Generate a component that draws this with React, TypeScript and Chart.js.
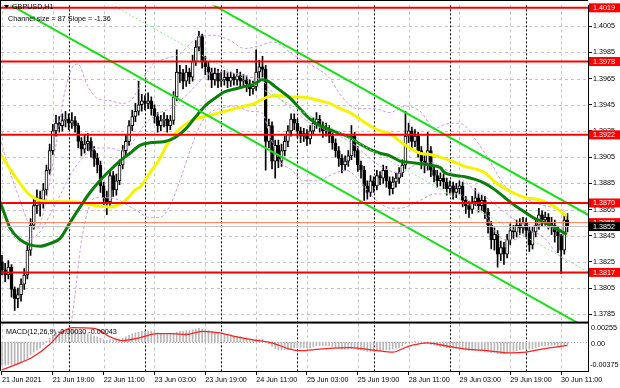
import { useEffect, useRef } from 'react';
import { Chart, registerables } from 'chart.js';

Chart.register(...registerables);

// ---------- DATA ----------
const firstOpen = 1.3825;
const closes = [
  1.3819, 1.3815, 1.3821, 1.3804, 1.3797, 1.38, 1.3808, 1.3815, 1.3834, 1.3853,
  1.3868, 1.3874, 1.3872, 1.388, 1.3895, 1.391, 1.3925, 1.3931, 1.3929, 1.3933,
  1.3934, 1.3931, 1.3933, 1.3929, 1.3917, 1.3911, 1.3915, 1.3917, 1.391, 1.3904,
  1.3899, 1.3883, 1.3874, 1.3871, 1.3891, 1.388, 1.3887, 1.3899, 1.391, 1.3917,
  1.3929, 1.3936, 1.394, 1.3945, 1.3948, 1.3946, 1.3948, 1.3942, 1.3936, 1.3929,
  1.3933, 1.3934, 1.3929, 1.3933, 1.3951, 1.397, 1.3969, 1.3963, 1.397, 1.3966,
  1.3978, 1.3989, 1.3997, 1.3978, 1.3974, 1.397, 1.3964, 1.3969, 1.3963, 1.3964,
  1.3966, 1.3963, 1.3966, 1.3964, 1.3967, 1.3963, 1.3964, 1.3961, 1.3957, 1.3959,
  1.397, 1.3974, 1.3972, 1.3917, 1.3929, 1.3902, 1.3914, 1.3902, 1.391, 1.3917,
  1.3925, 1.3934, 1.3931, 1.3925, 1.3921, 1.3923, 1.3919, 1.3925, 1.3931, 1.3934,
  1.3929, 1.3925, 1.3926, 1.3921, 1.3916, 1.391, 1.3904, 1.3899, 1.3902, 1.3906,
  1.3921, 1.391, 1.3899, 1.3895, 1.3883, 1.3878, 1.3887, 1.3883, 1.3891, 1.3889,
  1.3895, 1.3887, 1.3881, 1.3886, 1.3889, 1.3893, 1.3899, 1.3921, 1.3925, 1.3917,
  1.3921, 1.391, 1.3902, 1.3899, 1.391, 1.3895, 1.3891, 1.3887, 1.3889, 1.3886,
  1.3881, 1.3883, 1.3878, 1.3881, 1.3883, 1.3872, 1.3868, 1.3865, 1.3871, 1.3874,
  1.3868, 1.3872, 1.3863, 1.3853, 1.3842, 1.3846, 1.3831, 1.3836, 1.3831, 1.3842,
  1.3849, 1.3848, 1.3853, 1.3851, 1.3855, 1.3849, 1.3838, 1.3848, 1.3853, 1.3861,
  1.3857, 1.3859, 1.3855, 1.3853, 1.3848, 1.3845, 1.3834, 1.3857, 1.3852,
];
const highs = [
  1.383, 1.3824, 1.3826, 1.3823, 1.3806, 1.3805, 1.3812, 1.382, 1.3838, 1.3858,
  1.3873, 1.388, 1.3879, 1.3885, 1.3899, 1.3915, 1.393, 1.3937, 1.3936, 1.3938,
  1.394, 1.3938, 1.3939, 1.3936, 1.3931, 1.392, 1.3922, 1.3923, 1.392, 1.3913,
  1.3908, 1.3902, 1.3886, 1.3879, 1.3895, 1.3894, 1.3892, 1.3903, 1.3914, 1.3922,
  1.3933, 1.3941, 1.3946, 1.3963, 1.3953, 1.3952, 1.3954, 1.3951, 1.3945, 1.3939,
  1.3937, 1.3939, 1.3937, 1.3937, 1.3955, 1.3987, 1.3975, 1.3972, 1.3975, 1.3973,
  1.3983, 1.3994, 1.4001, 1.3999, 1.3982, 1.3978, 1.3973, 1.3973, 1.3972, 1.397,
  1.3971, 1.397, 1.397, 1.3969, 1.3972, 1.397, 1.3968, 1.3967, 1.3964, 1.3963,
  1.3987, 1.3979, 1.3982, 1.3975, 1.3934, 1.3932, 1.3918, 1.3918, 1.3915, 1.3921,
  1.3929, 1.3938, 1.3938, 1.3934, 1.3928, 1.3927, 1.3926, 1.3929, 1.3935, 1.3939,
  1.3937, 1.3932, 1.3931, 1.3929, 1.3924, 1.3919, 1.3913, 1.3907, 1.3906, 1.391,
  1.3929, 1.3924, 1.3913, 1.3902, 1.3898, 1.3887, 1.3891, 1.389, 1.3895, 1.3894,
  1.3899, 1.3898, 1.389, 1.389, 1.3893, 1.3897, 1.3903, 1.394, 1.3931, 1.3928,
  1.3926, 1.3924, 1.3913, 1.3906, 1.3924, 1.3913, 1.3898, 1.3895, 1.3893, 1.3892,
  1.3889, 1.3887, 1.3886, 1.3885, 1.3887, 1.3886, 1.3875, 1.3871, 1.3875, 1.3881,
  1.3877, 1.3876, 1.3875, 1.3866, 1.3856, 1.3851, 1.3849, 1.3841, 1.384, 1.3846,
  1.3854, 1.3853, 1.3857, 1.3858, 1.3859, 1.3858, 1.3852, 1.3852, 1.3857, 1.3866,
  1.3864, 1.3863, 1.3862, 1.3859, 1.3857, 1.3852, 1.3846, 1.3861, 1.3862,
];
const lows = [
  1.3815, 1.381, 1.3812, 1.3798, 1.3788, 1.379, 1.3795, 1.3804, 1.3812, 1.383,
  1.385, 1.3862, 1.386, 1.3866, 1.3876, 1.3892, 1.3907, 1.3921, 1.3924, 1.3925,
  1.3928, 1.3926, 1.3927, 1.3924, 1.3912, 1.3906, 1.3908, 1.391, 1.3905, 1.3898,
  1.3893, 1.3878, 1.3868, 1.3861, 1.3868, 1.3875, 1.3876, 1.3884, 1.3896, 1.3906,
  1.3914, 1.3925, 1.3932, 1.3937, 1.394, 1.3941, 1.3942, 1.3937, 1.3931, 1.3924,
  1.3925, 1.3928, 1.3924, 1.3926, 1.393, 1.3948, 1.3962, 1.3957, 1.3959, 1.3961,
  1.3963, 1.3975, 1.3986, 1.3973, 1.3968, 1.3964, 1.3958, 1.396, 1.3958, 1.3959,
  1.396, 1.3958, 1.3959, 1.396, 1.396, 1.3958, 1.3958, 1.3955, 1.3952, 1.3953,
  1.3956, 1.3965, 1.3966, 1.3895, 1.3912, 1.3896, 1.3889, 1.3897, 1.3898, 1.3906,
  1.3913, 1.3921, 1.3926, 1.392, 1.3916, 1.3917, 1.3914, 1.3915, 1.3922, 1.3927,
  1.3924, 1.392, 1.3921, 1.3916, 1.3911, 1.3905, 1.3898, 1.3893, 1.3895, 1.3898,
  1.3903, 1.3905, 1.3894, 1.3889, 1.3872, 1.3873, 1.3875, 1.3878, 1.388, 1.3884,
  1.3885, 1.3882, 1.3876, 1.3877, 1.3882, 1.3885, 1.389, 1.3896, 1.3916, 1.3912,
  1.3913, 1.3905, 1.3896, 1.3893, 1.3895, 1.389, 1.3886, 1.3882, 1.3883, 1.3881,
  1.3876, 1.3877, 1.3873, 1.3874, 1.3877, 1.3867, 1.3862, 1.3859, 1.3862, 1.3868,
  1.3863, 1.3864, 1.3858, 1.3847, 1.3835, 1.3834, 1.3821, 1.3826, 1.3823, 1.3828,
  1.3838, 1.3843, 1.3844, 1.3846, 1.3847, 1.3844, 1.3833, 1.3835, 1.3844, 1.385,
  1.3852, 1.3853, 1.385, 1.3846, 1.384, 1.3832, 1.3816, 1.3831, 1.3848,
];

// moving averages: [bar index, price]
const maYellow = [
  [-0.6, 1.3908], [2.5, 1.3896], [5.7, 1.3885], [8.8, 1.3876], [12, 1.3872], [16.7, 1.3871],
  [21.4, 1.3871], [26.1, 1.387], [29.3, 1.3868], [34, 1.3867], [37.1, 1.3869], [39.7, 1.3874],
  [41.9, 1.388], [43.4, 1.3882], [46.6, 1.3893], [49.7, 1.3904], [51.3, 1.3912], [54.5, 1.3923],
  [57.6, 1.393], [60.7, 1.3934], [63.9, 1.3936], [67, 1.3938], [70.2, 1.394], [73.3, 1.3942],
  [76.5, 1.3944], [79.6, 1.3946], [81.8, 1.3949], [83.7, 1.3951], [86.9, 1.3952], [90.7, 1.3951],
  [93.8, 1.3951], [97, 1.395], [100.1, 1.3948], [103.2, 1.3946], [106.4, 1.3942], [109.5, 1.3939],
  [112.7, 1.3934], [115.8, 1.3929], [119, 1.3925], [122.1, 1.3923], [125.3, 1.3917], [128.4, 1.3912],
  [131.6, 1.3908], [134.7, 1.3907], [137.9, 1.3905], [142.6, 1.3901], [145.7, 1.3898], [148.9, 1.3896],
  [152, 1.3893], [155.2, 1.3886], [158.3, 1.3881], [161.5, 1.3877], [164.6, 1.3874], [167.8, 1.3873],
  [170.9, 1.3871], [174.1, 1.3867], [176.6, 1.3862], [177.8, 1.386],
];
const maGreen = [
  [-0.6, 1.3871], [0.9, 1.3861], [2.5, 1.3851], [5.7, 1.3842], [8.8, 1.3838], [12, 1.3837],
  [15.1, 1.3839], [18.3, 1.3843], [21.4, 1.3855], [24.6, 1.3867], [27.7, 1.3878], [30.8, 1.3887],
  [34, 1.3895], [37.1, 1.3902], [40.3, 1.3908], [43.4, 1.3914], [46.6, 1.3916], [51.3, 1.3917],
  [54.5, 1.392], [57.6, 1.3926], [60.7, 1.3935], [63.9, 1.3944], [67, 1.395], [70.2, 1.3955],
  [73.3, 1.3957], [76.5, 1.3959], [79.6, 1.3961], [81.8, 1.3964], [83.7, 1.3963], [85.9, 1.3959],
  [88.1, 1.3955], [90.7, 1.395], [93.8, 1.3942], [97, 1.3934], [100.1, 1.3929], [103.2, 1.3926],
  [106.4, 1.3923], [109.5, 1.392], [112.7, 1.3915], [115.8, 1.3911], [119, 1.3908], [122.1, 1.3906],
  [125.3, 1.3902], [128.4, 1.3901], [131.6, 1.39], [134.7, 1.3899], [137.9, 1.3897], [139.4, 1.3893],
  [142.6, 1.3891], [145.7, 1.389], [148.9, 1.3888], [152, 1.3885], [155.2, 1.388], [158.3, 1.3874],
  [161.5, 1.3868], [164.6, 1.3863], [167.8, 1.3858], [170.9, 1.3855], [174.1, 1.3851], [177.8, 1.3846],
];
const bandUpper = [
  [-0.6, 1.392], [2.5, 1.3894], [5.7, 1.3872], [8.8, 1.3853], [11.3, 1.3851], [13.5, 1.3868],
  [16.7, 1.391], [19.8, 1.3955], [22, 1.3973], [23.9, 1.3976], [26.8, 1.396], [29.9, 1.395],
  [34, 1.3948], [38.1, 1.3946], [41.2, 1.395], [44.4, 1.3965], [47.5, 1.3976], [51.3, 1.398],
  [56, 1.3984], [59.8, 1.3993], [63, 1.3998], [67, 1.3998], [71.1, 1.3995], [76.5, 1.3988],
  [81.2, 1.399], [85, 1.3993], [87.5, 1.3991], [90.7, 1.3985], [93.8, 1.398], [96.9, 1.3976],
  [103.2, 1.3965], [106.4, 1.3953], [111.7, 1.3942], [117.4, 1.3942], [122.1, 1.3939], [126.8, 1.3944],
  [131.6, 1.394], [136.3, 1.3927], [139.4, 1.393], [142.6, 1.3931], [145.7, 1.3929], [148.9, 1.3919],
  [153.6, 1.3902], [158.3, 1.3883], [163, 1.3876], [167.8, 1.387], [170.9, 1.3868], [174.1, 1.3866],
  [177.8, 1.3863],
];
const bandMiddle = [
  [-0.6, 1.3855], [2.5, 1.3848], [5.7, 1.384], [8.8, 1.3842], [12, 1.3848], [15.1, 1.3861],
  [18.3, 1.3876], [21.4, 1.3891], [24.6, 1.3902], [27.7, 1.391], [30.8, 1.3912], [34, 1.3912],
  [37.1, 1.391], [40.3, 1.3914], [43.4, 1.3925], [46.6, 1.3934], [49.7, 1.3939], [52.9, 1.3942],
  [56, 1.3948], [59.2, 1.3955], [62.3, 1.3963], [65.5, 1.3969], [68.6, 1.397], [73.3, 1.3969],
  [78.1, 1.3966], [81.8, 1.3964], [85, 1.3955], [88.1, 1.3948], [92.2, 1.394], [96.9, 1.3931],
  [101.7, 1.3926], [106.4, 1.3921], [111.1, 1.3914], [115.8, 1.3904], [120.6, 1.3896], [125.3, 1.3893],
  [130, 1.3899], [134.7, 1.3901], [139.4, 1.3896], [144.2, 1.3889], [148.9, 1.388], [153.6, 1.3872],
  [158.3, 1.3863], [163, 1.3855], [167.8, 1.3853], [172.5, 1.3851], [177.8, 1.3848],
];
const bandLower = [
  [12, 1.3759], [18.3, 1.3763], [21.4, 1.3774], [23, 1.38], [24.6, 1.3834], [26.8, 1.3862],
  [29.3, 1.3874], [34, 1.3874], [41.2, 1.3866], [46.6, 1.3859], [49.7, 1.3859], [52.9, 1.3868],
  [56, 1.3887], [59.2, 1.391], [62.3, 1.3929], [65.5, 1.3939], [68.6, 1.3942], [73.3, 1.3944],
  [78.1, 1.394], [81.8, 1.3939], [84.4, 1.3921], [87.5, 1.3902], [91.3, 1.3895], [94.7, 1.3887],
  [99.2, 1.3887], [103.2, 1.3891], [108, 1.3895], [112.7, 1.3887], [115.8, 1.3877], [119, 1.387],
  [122.1, 1.3866], [125.3, 1.3866], [131.6, 1.3872], [136.3, 1.3877], [142.6, 1.3877], [145.7, 1.3874],
  [152, 1.3861], [155.2, 1.3848], [158.3, 1.3842], [161.5, 1.3842], [166.2, 1.3848], [170.9, 1.3843],
  [174.1, 1.3833], [177.8, 1.3825],
];

// regression channel (size 87 pips, slope -1.36 pips/bar)
const channelUpper = [[60, 1.4030], [184.5, 1.3861]];
const channelMiddle = [[30, 1.40275], [184.5, 1.38175]];
const channelLower = [[0, 1.40248], [184.5, 1.3774]];
const channelSize = '87';
const channelSlope = '-1.36';

const levels = [1.4019, 1.3978, 1.3922, 1.387, 1.3817];
const askLevel = 1.3855;
const bidLevel = 1.3852;

const macdHist = [
  -0.003, -0.003, -0.0029, -0.0029, -0.0029, -0.0028, -0.0026, -0.0024, -0.0021, -0.0017,
  -0.0013, -0.001, -0.0007, -0.0003, 0.0001, 0.0005, 0.0009, 0.0012, 0.0014, 0.0016,
  0.0017, 0.0017, 0.0017, 0.0016, 0.0015, 0.0013, 0.0012, 0.0011, 0.001, 0.0008,
  0.0007, 0.0005, 0.0003, 0.0002, 0.0003, 0.0003, 0.0003, 0.0004, 0.0005, 0.0007,
  0.0009, 0.0011, 0.0012, 0.0013, 0.0014, 0.0014, 0.0014, 0.0014, 0.0013, 0.0012,
  0.0011, 0.001, 0.001, 0.001, 0.0011, 0.0013, 0.0014, 0.0014, 0.0015, 0.0015,
  0.0016, 0.0017, 0.0018, 0.0017, 0.0016, 0.0015, 0.0014, 0.0013, 0.0012, 0.0011,
  0.001, 0.0009, 0.0009, 0.0008, 0.0008, 0.0007, 0.0006, 0.0005, 0.0004, 0.0003,
  0.0004, 0.0004, 0.0004, 0.0, -0.0002, -0.0006, -0.0008, -0.001, -0.001, -0.001,
  -0.0009, -0.0008, -0.0007, -0.0007, -0.0007, -0.0007, -0.0007, -0.0007, -0.0006, -0.0005,
  -0.0005, -0.0005, -0.0005, -0.0005, -0.0006, -0.0007, -0.0008, -0.0009, -0.0009, -0.0009,
  -0.0008, -0.0008, -0.0009, -0.001, -0.0011, -0.0012, -0.0012, -0.0012, -0.0011, -0.0011,
  -0.001, -0.001, -0.001, -0.0009, -0.0008, -0.0007, -0.0005, -0.0002, 0.0, 0.0,
  0.0001, 0.0, -0.0001, -0.0002, -0.0002, -0.0003, -0.0004, -0.0005, -0.0006, -0.0006,
  -0.0007, -0.0007, -0.0008, -0.0008, -0.0008, -0.0009, -0.001, -0.0011, -0.0011, -0.0011,
  -0.0011, -0.0011, -0.0012, -0.0013, -0.0014, -0.0014, -0.0015, -0.0015, -0.0015, -0.0014,
  -0.0013, -0.0012, -0.0011, -0.001, -0.0009, -0.0009, -0.0009, -0.0008, -0.0007, -0.0006,
  -0.0005, -0.0005, -0.0005, -0.0004, -0.0004, -0.0005, -0.0005, -0.0004, -0.0003,
];
const macdSignal = [
  [0, -0.0036], [5.7, -0.0027], [9.8, -0.0019], [15, -0.0003], [18, 0.001], [22, 0.0019],
  [29, 0.0018], [34, 0.0007], [38, 0.0002], [43.5, 0.0006], [48.8, 0.0011], [53.8, 0.0011],
  [58, 0.001], [63, 0.0014], [68.6, 0.0012], [72.7, 0.0008], [79, 0.0003], [85, -0.0001],
  [90.6, -0.0009], [93.8, -0.0011], [100, -0.0009], [109.5, -0.0007], [118, -0.0011], [123, -0.0013],
  [127.5, -0.0006], [133.8, -0.0001], [140, -0.0005], [146.4, -0.0009], [152.7, -0.0011], [160, -0.0014],
  [165, -0.0013], [170, -0.0009], [178, -0.00043],
];

const xTickIdx = [0, 16, 32, 48, 64, 80, 96, 112, 128, 144, 160, 176];
const xTickLabels = [
  '21 Jun 2021', '21 Jun 19:00', '22 Jun 11:00', '23 Jun 03:00', '23 Jun 19:00', '24 Jun 11:00',
  '25 Jun 03:00', '25 Jun 19:00', '28 Jun 11:00', '29 Jun 03:00', '29 Jun 19:00', '30 Jun 11:00',
];
const daySeparators = [21, 45, 69, 93, 117, 141, 165];
const priceTicks = [1.4005, 1.3985, 1.3965, 1.3945, 1.3925, 1.3905, 1.3885, 1.3865, 1.3845, 1.3825, 1.3805, 1.3785];
const macdTicks = [0.00255, 0, -0.00375];
const macdTickLabels = ['0.00255', '0.00', '-0.00375'];

// axis ranges
const X_MIN = -0.31;
const X_MAX = 184.46;
const PRICE_MIN = 1.37787;
const PRICE_MAX = 1.40209;
const MACD_MIN = -0.00375;
const MACD_MAX = 0.00255;

const FONT_FAMILY = '"Liberation Sans", Arial, sans-serif';
const FONT_PX = 7.2;

export default function App() {
  const ref = useRef<HTMLCanvasElement>(null);

  useEffect(() => {
    const canvas = ref.current;
    if (!canvas) return;
    const opens = closes.map((c, i) => (i === 0 ? firstOpen : closes[i - 1]));
    const wickData = closes.map((c, i) => ({
      x: i,
      y: [Math.min(lows[i], opens[i], c), Math.max(highs[i], opens[i], c)],
    }));
    const bodyData = closes.map((c, i) => ({ x: i, y: [Math.min(opens[i], c), Math.max(opens[i], c)] }));
    const bodyColors = closes.map((c, i) => (c >= opens[i] ? '#ffffff' : '#000000'));
    const pts = (arr: number[][]) => arr.map(([x, y]) => ({ x, y }));
    const hline = (v: number) => [{ x: X_MIN - 1, y: v }, { x: X_MAX + 1, y: v }];
    const lineBase = { type: 'line', pointRadius: 0, fill: false, yAxisID: 'y' };

    const datasets: any[] = [];
    levels.forEach((v) =>
      datasets.push({ ...lineBase, data: hline(v), borderColor: '#ff0000', borderWidth: 2, order: 1 })
    );
    datasets.push({ ...lineBase, data: hline(askLevel), borderColor: '#ff7a50', borderWidth: 1, order: 2 });
    datasets.push({ ...lineBase, data: hline(bidLevel), borderColor: '#c4c4c4', borderWidth: 1, order: 2 });
    datasets.push({ ...lineBase, data: pts(channelUpper), borderColor: '#19e019', borderWidth: 2, order: 3 });
    datasets.push({ ...lineBase, data: pts(channelLower), borderColor: '#19e019', borderWidth: 2, order: 3 });
    datasets.push({
      ...lineBase, data: pts(channelMiddle), borderColor: '#8fe88f', borderWidth: 1, borderDash: [2, 2], order: 3,
    });
    datasets.push({
      ...lineBase, data: pts(maGreen), borderColor: '#0a7d0a', borderWidth: 3, cubicInterpolationMode: 'monotone', order: 4,
    });
    datasets.push({
      ...lineBase, data: pts(maYellow), borderColor: '#f4f400', borderWidth: 3, cubicInterpolationMode: 'monotone', order: 5,
    });
    [bandUpper, bandMiddle, bandLower].forEach((b) =>
      datasets.push({
        ...lineBase, data: pts(b), borderColor: '#c7a2e2', borderWidth: 1, borderDash: [3, 2],
        cubicInterpolationMode: 'monotone', order: 6,
      })
    );
    datasets.push({
      type: 'bar', data: bodyData, yAxisID: 'y', backgroundColor: bodyColors, borderColor: '#000000',
      borderWidth: 1, borderSkipped: false, barThickness: 3, minBarLength: 1, grouped: false, order: 7,
    });
    datasets.push({
      type: 'bar', data: wickData, yAxisID: 'y', backgroundColor: '#000000', borderWidth: 0,
      barThickness: 1, grouped: false, order: 8,
    });
    datasets.push({
      ...lineBase, yAxisID: 'y2', data: pts(macdSignal), borderColor: '#ff2020', borderWidth: 1.3,
      cubicInterpolationMode: 'monotone', order: 8,
    });
    datasets.push({
      type: 'bar', yAxisID: 'y2', data: macdHist.map((v, i) => ({ x: i, y: v })), backgroundColor: '#b8b8b8',
      borderWidth: 0, barThickness: 1, grouped: false, order: 9,
    });

    const font = `${FONT_PX}px ${FONT_FAMILY}`;

    const panelClip = {
      id: 'panelClip',
      beforeDatasetDraw(chart: any, args: any) {
        const ds = chart.data.datasets[args.index];
        const ys = chart.scales[ds.yAxisID || 'y'];
        const { left, right } = chart.chartArea;
        const ctx = chart.ctx;
        ctx.save();
        ctx.beginPath();
        ctx.rect(left, ys.top, right - left, ys.bottom - ys.top);
        ctx.clip();
      },
      afterDatasetDraw(chart: any) {
        chart.ctx.restore();
      },
    };

    const backdrop = {
      id: 'backdrop',
      beforeDatasetsDraw(chart: any) {
        const ctx = chart.ctx;
        const xs = chart.scales.x, ys = chart.scales.y, y2 = chart.scales.y2;
        const { left, right, top, bottom } = chart.chartArea;
        ctx.save();
        ctx.lineWidth = 1;
        ctx.strokeStyle = '#c6c6c6';
        ctx.setLineDash([3, 3]);
        ctx.beginPath();
        priceTicks.forEach((v) => {
          const py = Math.round(ys.getPixelForValue(v)) + 0.5;
          ctx.moveTo(left, py);
          ctx.lineTo(right, py);
        });
        xTickIdx.forEach((v) => {
          const px = Math.round(xs.getPixelForValue(v)) + 0.5;
          ctx.moveTo(px, top);
          ctx.lineTo(px, bottom);
        });
        ctx.stroke();
        // MACD zero line
        ctx.strokeStyle = '#a8a8a8';
        ctx.setLineDash([1, 2]);
        ctx.beginPath();
        const zy = Math.round(y2.getPixelForValue(0)) + 0.5;
        ctx.moveTo(left, zy);
        ctx.lineTo(right, zy);
        ctx.stroke();
        // day separators
        ctx.strokeStyle = '#000000';
        ctx.setLineDash([2, 2]);
        ctx.beginPath();
        daySeparators.forEach((v) => {
          const px = Math.round(xs.getPixelForValue(v)) + 0.5;
          ctx.moveTo(px, top);
          ctx.lineTo(px, bottom);
        });
        ctx.stroke();
        ctx.restore();
      },
      afterDraw(chart: any) {
        const ctx = chart.ctx;
        const ys = chart.scales.y, y2 = chart.scales.y2;
        const { right, bottom } = chart.chartArea;
        const W = chart.width;
        ctx.save();
        ctx.setLineDash([]);
        ctx.strokeStyle = '#000';
        ctx.lineWidth = 1;
        ctx.beginPath();
        ctx.moveTo(0.5, 0);
        ctx.lineTo(0.5, bottom);
        ctx.moveTo(0, 0.5);
        ctx.lineTo(right, 0.5);
        ctx.stroke();
        ctx.fillStyle = '#000';
        ctx.fillRect(0, ys.bottom - 1, right, 2);

        ctx.font = font;
        ctx.textBaseline = 'middle';
        ctx.textAlign = 'left';
        const box = (v: number, bg: string) => {
          const py = ys.getPixelForValue(v);
          ctx.fillStyle = bg;
          ctx.fillRect(right + 1, py - 4.5, W - right - 1, 9);
          ctx.fillStyle = '#ffffff';
          ctx.fillText(v.toFixed(4), right + 5, py + 0.5);
        };
        levels.forEach((v) => box(v, '#ff0000'));
        box(askLevel, '#ff0000');
        box(bidLevel, '#000000');

        // MACD axis labels
        ctx.fillStyle = '#000';
        macdTicks.forEach((v, i) => {
          let py = y2.getPixelForValue(v);
          if (i === 0) py += 5;
          else if (i === macdTicks.length - 1) py -= 6;
          else py += 1.5;
          ctx.fillText(macdTickLabels[i], right + (v < 0 ? 2 : 3), py);
        });

        // titles
        ctx.beginPath();
        ctx.moveTo(4, 5);
        ctx.lineTo(9, 5);
        ctx.lineTo(6.5, 8.5);
        ctx.closePath();
        ctx.fill();
        ctx.fillText('GBPUSD,H1', 12, 7);
        ctx.fillText(`Channel size = ${channelSize} Slope = ${channelSlope}`, 8, 19);
        const lastSignal = macdSignal[macdSignal.length - 1][1];
        ctx.fillText(
          `MACD(12,26,9) ${macdHist[macdHist.length - 1].toFixed(5)} ${lastSignal.toFixed(5)}`,
          6,
          ys.bottom + 9
        );
        ctx.restore();
      },
    };

    const chart = new Chart(canvas, {
      type: 'bar',
      data: { datasets },
      plugins: [panelClip, backdrop],
      options: {
        animation: false,
        responsive: false,
        devicePixelRatio: 1,
        events: [],
        layout: { padding: { left: 1, top: 1, right: 0, bottom: 0 } },
        plugins: { legend: { display: false }, tooltip: { enabled: false } },
        scales: {
          x: {
            type: 'linear',
            min: X_MIN,
            max: X_MAX,
            offset: false,
            position: 'bottom',
            grid: { display: true, offset: false, drawOnChartArea: false, drawTicks: true, tickLength: 4, tickColor: '#000' },
            border: { display: true, color: '#000', width: 1 },
            afterBuildTicks: (s: any) => {
              s.ticks = xTickIdx.map((v) => ({ value: v }));
            },
            afterFit: (s: any) => {
              s.height = 17;
            },
            ticks: {
              autoSkip: false,
              maxRotation: 0,
              minRotation: 0,
              align: 'start',
              padding: 1,
              color: '#000',
              font: { family: FONT_FAMILY, size: FONT_PX },
              callback: (_v: any, i: number) => xTickLabels[i],
            },
          },
          y: {
            type: 'linear',
            position: 'right',
            stack: 'panes',
            stackWeight: 321,
            min: PRICE_MIN,
            max: PRICE_MAX,
            grid: { display: true, drawOnChartArea: false, drawTicks: true, tickLength: 4, tickColor: '#000' },
            border: { display: true, color: '#000', width: 1 },
            afterBuildTicks: (s: any) => {
              s.ticks = priceTicks.map((v) => ({ value: v }));
            },
            afterFit: (s: any) => {
              s.width = 32;
            },
            ticks: {
              autoSkip: false,
              padding: 1,
              color: '#000',
              font: { family: FONT_FAMILY, size: FONT_PX },
              callback: (v: any) => Number(v).toFixed(4),
            },
          },
          y2: {
            type: 'linear',
            position: 'right',
            stack: 'panes',
            stackWeight: 49,
            min: MACD_MIN,
            max: MACD_MAX,
            grid: { display: false },
            border: { display: true, color: '#000', width: 1 },
            afterBuildTicks: (s: any) => {
              s.ticks = [];
            },
            afterFit: (s: any) => {
              s.width = 32;
            },
            ticks: { display: false },
          },
        },
      } as any,
    });
    return () => chart.destroy();
  }, []);

  return (
    <div style={{ position: 'absolute', left: 0, top: 0, width: 620, height: 388, background: '#ffffff' }}>
      <canvas ref={ref} width={620} height={388} style={{ width: 620, height: 388, display: 'block' }} />
    </div>
  );
}
